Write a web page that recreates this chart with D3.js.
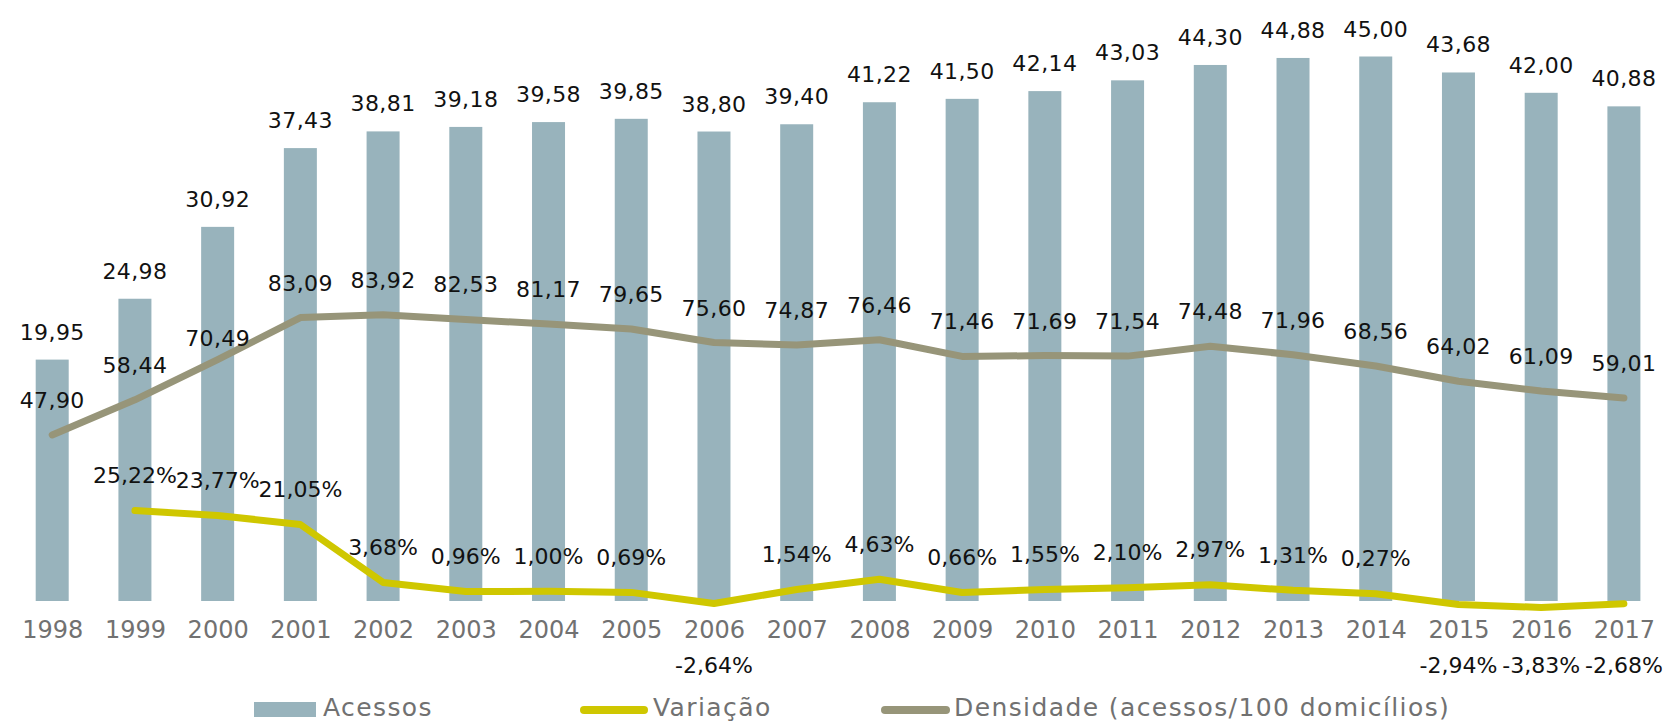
<!DOCTYPE html>
<html>
<head>
<meta charset="utf-8">
<script src="https://cdn.jsdelivr.net/npm/d3@7"></script>
<style>
  html, body { margin: 0; padding: 0; background: #ffffff; }
  svg { display: block; }
  text { font-family: "DejaVu Sans", sans-serif; }
</style>
</head>
<body>
<svg id="chart" width="1666" height="723"></svg>
<script>
// ---- data ----
const years = ["1998","1999","2000","2001","2002","2003","2004","2005","2006","2007",
               "2008","2009","2010","2011","2012","2013","2014","2015","2016","2017"];
const acessos = [19.95,24.98,30.92,37.43,38.81,39.18,39.58,39.85,38.80,39.40,
                 41.22,41.50,42.14,43.03,44.30,44.88,45.00,43.68,42.00,40.88];
const variacao = [null,25.22,23.77,21.05,3.68,0.96,1.00,0.69,-2.64,1.54,
                  4.63,0.66,1.55,2.10,2.97,1.31,0.27,-2.94,-3.83,-2.68];
const densidade = [47.90,58.44,70.49,83.09,83.92,82.53,81.17,79.65,75.60,74.87,
                   76.46,71.46,71.69,71.54,74.48,71.96,68.56,64.02,61.09,59.01];
const seriesNames = ["Acessos","Variação","Densidade (acessos/100 domicílios)"];

// ---- styles ----
const colBar = "#98b3bc", colVar = "#cfc700", colDen = "#979579";
const fmt = v => v.toFixed(2).replace(".", ",");

const svg = d3.select("#chart");

const x = d3.scalePoint().domain(years).range([52.2, 1623.9]);
const barW = 33;
const yBar = d3.scaleLinear().domain([0, 50]).range([601, -4]);
const y2 = d3.scaleLinear().domain([0, 100]).range([594.7, 261.2]);

// bars
svg.append("g").selectAll("rect").data(years).join("rect")
  .attr("x", d => x(d) - barW / 2)
  .attr("y", (d, i) => yBar(acessos[i]))
  .attr("width", barW)
  .attr("height", (d, i) => yBar(0) - yBar(acessos[i]))
  .attr("fill", colBar);

// bar labels
svg.append("g").selectAll("text").data(years).join("text")
  .attr("x", d => x(d))
  .attr("y", (d, i) => yBar(acessos[i]) - 20)
  .attr("text-anchor", "middle")
  .attr("font-size", 22)
  .attr("letter-spacing", 0.4)
  .attr("fill", "#111")
  .text((d, i) => fmt(acessos[i]));

// x axis (labels only)
const xAxis = d3.axisBottom(x).tickSize(0).tickPadding(0);
const gx = svg.append("g").attr("transform", `translate(0, ${yBar(0)})`).call(xAxis);
gx.select(".domain").remove();
gx.selectAll("text")
  .attr("y", 37)
  .attr("dy", 0)
  .attr("font-size", 24)
  .attr("font-family", "DejaVu Sans, sans-serif")
  .attr("fill", "#717171");

// densidade line
const denData = years.map((d, i) => [d, densidade[i]]);
svg.append("path")
  .datum(denData)
  .attr("fill", "none")
  .attr("stroke", colDen)
  .attr("stroke-width", 7)
  .attr("stroke-linecap", "round")
  .attr("stroke-linejoin", "round")
  .attr("d", d3.line().x(d => x(d[0])).y(d => y2(d[1])));

// variacao line
const varData = years.map((d, i) => [d, variacao[i]]).filter(d => d[1] !== null);
svg.append("path")
  .datum(varData)
  .attr("fill", "none")
  .attr("stroke", colVar)
  .attr("stroke-width", 7)
  .attr("stroke-linecap", "round")
  .attr("stroke-linejoin", "round")
  .attr("d", d3.line().x(d => x(d[0])).y(d => y2(d[1])));

// densidade labels
svg.append("g").selectAll("text").data(denData).join("text")
  .attr("x", d => x(d[0]))
  .attr("y", d => y2(d[1]) - (d[0] === "2000" ? 14 : 27))
  .attr("text-anchor", "middle")
  .attr("font-size", 22)
  .attr("letter-spacing", 0.4)
  .attr("fill", "#111")
  .text(d => fmt(d[1]));

// variacao labels
svg.append("g").selectAll("text").data(varData).join("text")
  .attr("x", d => x(d[0]))
  .attr("y", d => d[1] >= 0 ? y2(d[1]) - 27.5 : yBar(0) + 72)
  .attr("text-anchor", "middle")
  .attr("font-size", 22)
  .attr("fill", "#111")
  .text(d => fmt(d[1]) + "%");

// legend
const lg = svg.append("g");
const legendItems = [
  { name: seriesNames[0], type: "rect", color: colBar, sx: 254, sw: 62, tx: 323 },
  { name: seriesNames[1], type: "line", color: colVar, sx: 580, sw: 68, tx: 653 },
  { name: seriesNames[2], type: "line", color: colDen, sx: 881, sw: 69, tx: 954 }
];
legendItems.forEach(it => {
  if (it.type === "rect") {
    lg.append("rect").attr("x", it.sx).attr("y", 702).attr("width", it.sw).attr("height", 15).attr("fill", it.color);
  } else {
    lg.append("line").attr("x1", it.sx + 4).attr("x2", it.sx + it.sw - 4)
      .attr("y1", 710).attr("y2", 710)
      .attr("stroke", it.color).attr("stroke-width", 8).attr("stroke-linecap", "round");
  }
  lg.append("text").attr("x", it.tx).attr("y", 716)
    .attr("font-size", 25).attr("letter-spacing", 1.4)
    .attr("fill", "#717171").text(it.name);
});
</script>
</body>
</html>
